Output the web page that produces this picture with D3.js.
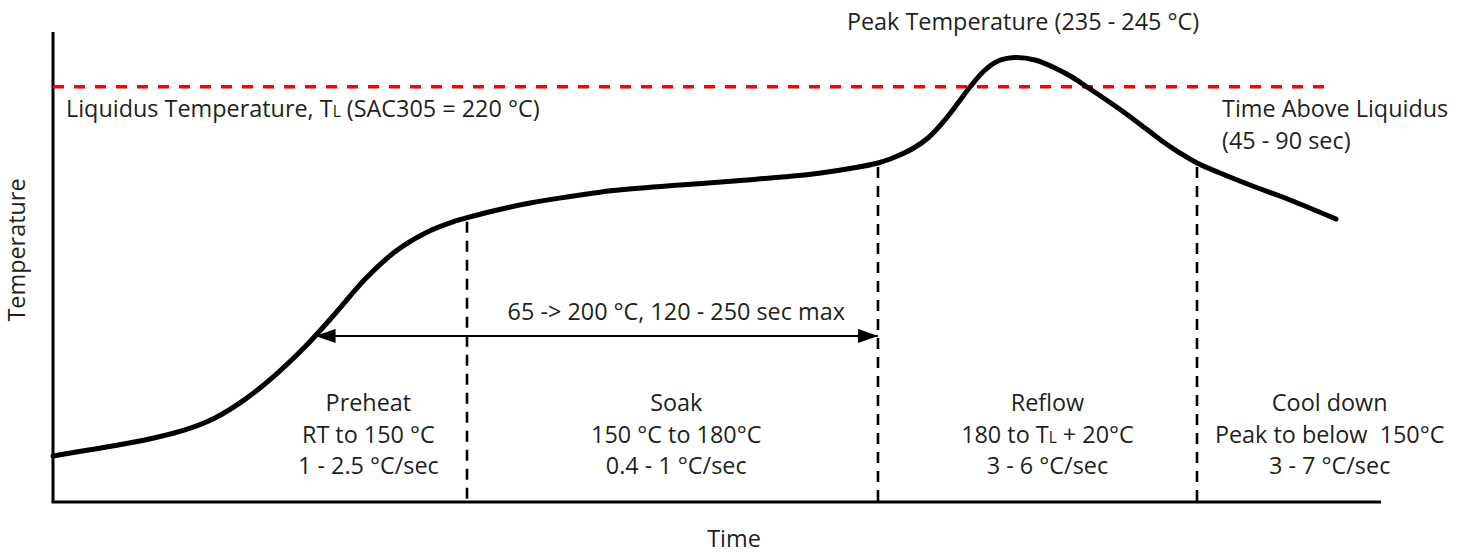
<!DOCTYPE html>
<html>
<head>
<meta charset="utf-8">
<script src="https://cdn.jsdelivr.net/npm/d3@7"></script>
<style>
  html, body { margin: 0; padding: 0; background: #ffffff; }
  svg { display: block; }
  text { font-family: "Open Sans", "Noto Sans", sans-serif; fill: #231f20; }
</style>
</head>
<body>
<svg id="chart" width="1471" height="553"></svg>
<script>
// ---- data (schematic reflow profile: time in s, temperature in °C) ----
const times = [0, 12.26, 23.86, 33.80, 43.73, 53.67, 63.61, 73.55, 83.49, 93.43,
  103.37, 113.31, 123.25, 133.19, 137.17, 144.79, 158.04, 171.29, 185.54, 207.74,
  229.94, 251.81, 263.07, 273.34, 278.98, 284.61, 289.91, 295.21, 299.85, 303.82,
  308.46, 313.10, 318.73, 325.36, 331.99, 337.62, 342.59, 348.55, 355.18, 361.81,
  367.44, 373.40, 379.04, 386.66, 396.60, 409.85, 425.09];
const temps = [24.37, 27.71, 30.86, 34.04, 38.17, 44.53, 54.38, 67.10, 82.20, 99.68,
  117.96, 132.58, 142.43, 148.79, 150.62, 153.77, 158.43, 161.82, 165.03, 167.94,
  170.59, 173.77, 176.42, 179.60, 182.78, 187.01, 192.84, 201.85, 211.38, 219.86,
  228.34, 233.64, 235.49, 234.17, 229.93, 225.16, 219.86, 213.50, 206.09, 198.14,
  191.25, 184.89, 179.60, 174.30, 167.94, 160.00, 149.93];
const phaseBoundaryIdx = [14, 23, 42];           // indices into times/temps
const liquidusTemp = 220;
const phaseNames = ["Preheat", "Soak", "Reflow", "Cool down"];
const phaseRanges = ["RT to 150 °C", "150 °C to 180°C", null, "Peak to below  150°C"];
const phaseRates = ["1 - 2.5 °C/sec", "0.4 - 1 °C/sec", "3 - 6 °C/sec", "3 - 7 °C/sec"];
const soakSpanLabel = "65 -> 200 °C, 120 - 250 sec max";
const peakLabel = "Peak Temperature (235 - 245 °C)";
const talLabel = ["Time Above Liquidus", "(45 - 90 sec)"];
const xAxisTitle = "Time";
const yAxisTitle = "Temperature";

// ---- layout ----
const svg = d3.select("#chart");
const x = d3.scaleLinear().domain([0, 440]).range([53, 1381]);
const y = d3.scaleLinear().domain([0, 249]).range([502, 32]);
const fs = 23.4;
const fsSub = 15.5;

const pts = times.map((t, i) => [t, temps[i]]);

// axes (plain lines, no ticks)
svg.append("line").attr("x1", x(0)).attr("x2", x(0)).attr("y1", y(249)).attr("y2", y(0))
  .attr("stroke", "#000").attr("stroke-width", 3);
svg.append("line").attr("x1", x(0) - 1.5).attr("x2", x(440)).attr("y1", y(0)).attr("y2", y(0))
  .attr("stroke", "#000").attr("stroke-width", 3);

// phase boundaries
phaseBoundaryIdx.forEach(i => {
  svg.append("line")
    .attr("x1", x(times[i])).attr("x2", x(times[i]))
    .attr("y1", y(temps[i]) + 4).attr("y2", y(0))
    .attr("stroke", "#000").attr("stroke-width", 2.6)
    .attr("stroke-dasharray", "11,8");
});

// liquidus line
svg.append("line")
  .attr("x1", x(0)).attr("x2", x(422.5))
  .attr("y1", y(liquidusTemp)).attr("y2", y(liquidusTemp))
  .attr("stroke", "#ff0000").attr("stroke-width", 3.5)
  .attr("stroke-dasharray", "11,10");

// profile curve
svg.append("path")
  .datum(pts)
  .attr("fill", "none").attr("stroke", "#000").attr("stroke-width", 5)
  .attr("stroke-linecap", "round")
  .attr("d", d3.line().x(d => x(d[0])).y(d => y(d[1])).curve(d3.curveCatmullRom.alpha(0.5)));

// soak span arrow
const defs = svg.append("defs");
defs.append("marker").attr("id", "ah").attr("viewBox", "0 0 20 14")
  .attr("refX", 20).attr("refY", 7).attr("markerWidth", 21).attr("markerHeight", 14)
  .attr("markerUnits", "userSpaceOnUse").attr("orient", "auto-start-reverse")
  .append("path").attr("d", "M0,0 L20,7 L0,14 Z").attr("fill", "#000");
const arrowTemp = 88;
svg.append("line")
  .attr("x1", x(87)).attr("x2", x(times[phaseBoundaryIdx[1]]))
  .attr("y1", y(arrowTemp)).attr("y2", y(arrowTemp))
  .attr("stroke", "#000").attr("stroke-width", 2)
  .attr("marker-start", "url(#ah)").attr("marker-end", "url(#ah)");
svg.append("text").attr("x", x(206.5)).attr("y", 320).attr("text-anchor", "middle")
  .attr("font-size", fs).text(soakSpanLabel);

// peak label
svg.append("text").attr("x", 1023).attr("y", 30).attr("text-anchor", "middle")
  .attr("font-size", fs).text(peakLabel);

// liquidus label
const lt = svg.append("text").attr("x", 66).attr("y", 117).attr("font-size", fs);
lt.append("tspan").text("Liquidus Temperature, T");
lt.append("tspan").attr("font-size", fsSub).text("L");
lt.append("tspan").text(" (SAC305 = " + liquidusTemp + " °C)");

// time above liquidus
talLabel.forEach((s, i) => {
  svg.append("text").attr("x", 1222).attr("y", 117 + i * 32).attr("font-size", fs).text(s);
});

// phase labels
const phaseCenters = [104.5, 206.5, 329.5, 423];
phaseNames.forEach((name, i) => {
  const cx = x(phaseCenters[i]);
  svg.append("text").attr("x", cx).attr("y", 411).attr("text-anchor", "middle").attr("font-size", fs).text(name);
  const t2 = svg.append("text").attr("x", cx).attr("y", 443).attr("text-anchor", "middle").attr("font-size", fs);
  if (phaseRanges[i] !== null) {
    t2.attr("xml:space", "preserve").style("white-space", "pre").text(phaseRanges[i]);
  } else {
    t2.append("tspan").text("180 to T");
    t2.append("tspan").attr("font-size", fsSub).text("L");
    t2.append("tspan").text(" + 20°C");
  }
  svg.append("text").attr("x", cx).attr("y", 474).attr("text-anchor", "middle").attr("font-size", fs).text(phaseRates[i]);
});

// axis titles
svg.append("text").attr("x", 734).attr("y", 547).attr("text-anchor", "middle").attr("font-size", fs).text(xAxisTitle);
svg.append("text").attr("transform", "translate(25,250) rotate(-90)").attr("text-anchor", "middle")
  .attr("font-size", fs).text(yAxisTitle);
</script>
</body>
</html>
